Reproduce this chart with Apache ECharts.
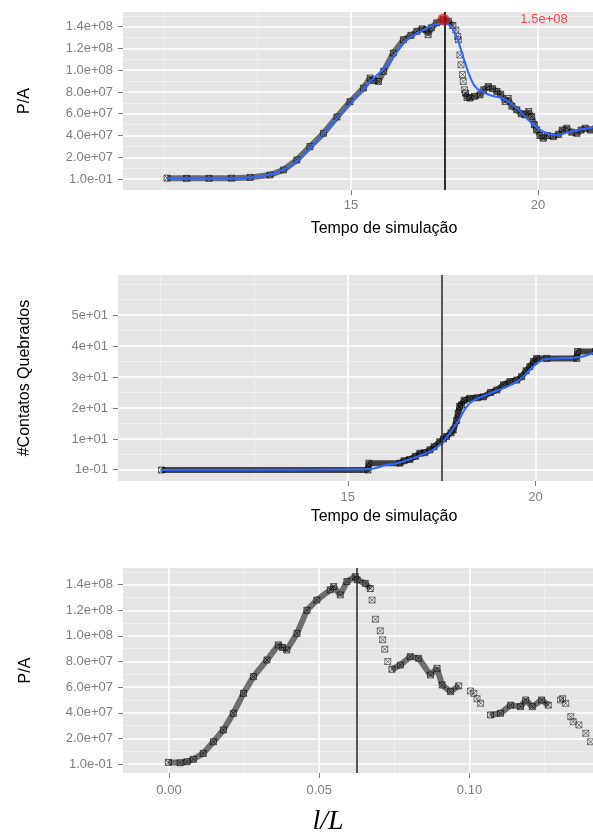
<!DOCTYPE html>
<html>
<head>
<meta charset="utf-8">
<script src="https://cdn.jsdelivr.net/npm/echarts@6/dist/echarts.min.js"></script>
<style>
html, body { margin: 0; padding: 0; background: #fff; }
#chart { width: 593px; height: 834px; }
</style>
</head>
<body>
<div id="chart"></div>
<script>
// values
// P/A values are kept in millions (x 1e6)
const PA_UNIT = 1e6;

// panel 1: P/A vs tempo de simulação
const pa1Rise = [[10.08,0.8],[10.6,0.6],[11.2,0.6],[11.8,0.8],[12.3,1.5],[12.83,3.7],[13.19,8.3],[13.55,17.5],[13.9,29.8],[14.26,42],[14.62,57],[14.97,71],[15.33,83.6],[15.51,92.8],[15.6,90.5],[15.73,89.7],[15.87,98.9],[16.13,115.8],[16.4,128],[16.6,132],[16.76,135.8],[16.9,138],[17.02,137],[17.06,132.7],[17.15,139],[17.29,143.5],[17.47,146.5],[17.6,145],[17.72,141]];
const pa1Drop = [[17.8,137],[17.85,131],[17.87,128],[17.91,114],[17.94,105],[17.98,96],[18.0,89.6],[18.03,82]];
const pa1Tail = [[18.06,79],[18.1,75],[18.18,74.4],[18.3,76],[18.45,77.4],[18.55,82],[18.67,85],[18.78,83],[18.9,80.5],[19.0,78],[19.12,71.2],[19.2,74],[19.3,67],[19.43,63.6],[19.55,60],[19.65,59],[19.75,62],[19.83,57.4],[19.9,50],[19.96,45.2],[20.05,40],[20.14,37.5],[20.25,40],[20.41,39],[20.55,41],[20.65,45],[20.77,46.7],[20.9,43],[21.04,42],[21.15,45],[21.26,46.7],[21.4,45],[21.55,46.7]];
const pa1Smooth = [[10.08,0.5],[11,0.5],[12,0.8],[12.5,2],[13,6],[13.5,15],[14,32],[14.5,51],[15,70],[15.5,89],[16,106],[16.5,128],[17,138],[17.3,142.5],[17.5,143],[17.74,137],[18.0,112],[18.18,94],[18.36,83.4],[18.72,77],[19.07,74],[19.43,65],[19.79,52.7],[20.14,43.5],[20.5,40.4],[20.86,43.5],[21.47,47.5]];
const pa1Peak = [17.47, 146.5];
const pa1PeakText = '1.5e+08';
const pa1Cut = 17.5;

// panel 2: #Contatos Quebrados vs tempo de simulação
const cqSteps = [[10.04,0],[15.54,0],[15.56,2.2],[16.39,2.2],[16.5,3.0],[16.65,3.4],[16.8,4.4],[16.92,5.4],[17.05,5.6],[17.19,6.5],[17.3,7.5],[17.45,9.1],[17.55,10],[17.63,10.8],[17.75,12],[17.81,12.9],[17.9,16],[17.94,18.3],[17.98,20.5],[18.03,21],[18.1,22.5],[18.25,23.1],[18.45,23.3],[18.61,23.6],[18.8,25],[18.97,25.8],[19.15,27.5],[19.32,28.5],[19.5,29],[19.63,30.1],[19.75,32],[19.85,33.3],[19.95,35],[20.03,36],[20.3,36],[21.1,36],[21.12,38.2],[21.6,38.2]];
const cqSmooth = [[10.04,0],[15.54,0.2],[16,1.5],[16.39,2.4],[17.19,6],[17.5,8.6],[17.9,15],[18.25,21.5],[18.69,24.2],[19.5,28.5],[20.2,35.5],[20.5,36],[21.1,36.3],[21.55,37.8]];
const cqCut = 17.5;

// panel 3: P/A vs l/L
const pa3Rise = [[-0.0002,1.3],[0.0037,1.0],[0.006,1.8],[0.0081,3.7],[0.0114,8.3],[0.0148,17.4],[0.0181,26.6],[0.0214,39.6],[0.0248,55.2],[0.0281,68.2],[0.0326,81.2],[0.0364,93],[0.0378,91],[0.0392,89],[0.0426,102],[0.0459,120],[0.0492,128],[0.0537,136],[0.0548,138.5],[0.057,132],[0.0592,142.4],[0.062,146.3],[0.0626,143.8],[0.0653,141],[0.067,137]];
const pa3Drop = [[0.0676,128],[0.0687,113],[0.0703,104],[0.0711,97],[0.0718,89.6],[0.0728,80]];
const pa3Mid = [[0.0742,74],[0.077,77.3],[0.0803,83.8],[0.0831,82.5],[0.087,69.5],[0.0892,74.7],[0.0909,61.7],[0.0937,56.5],[0.0964,61]];
const pa3Gap = [[0.1003,57],[0.1014,55.2],[0.1025,51],[0.1037,47.4]];
const pa3Low = [[0.107,38.3],[0.1103,39.6],[0.1137,46],[0.117,44.8],[0.1187,50],[0.1209,44.8],[0.124,50],[0.1262,46]];
const pa3End = [[0.1303,50],[0.131,51],[0.132,47.4],[0.1337,37],[0.1345,33],[0.1364,30.5],[0.1387,24],[0.1403,17.4]];
const pa3Cut = 0.0626;

// tick values and labels
const paTicks = [0.1, 2e7, 4e7, 6e7, 8e7, 1e8, 1.2e8, 1.4e8];
const paLabels = ['1.0e-01','2.0e+07','4.0e+07','6.0e+07','8.0e+07','1.0e+08','1.2e+08','1.4e+08'];
const paMinor = [1e7, 3e7, 5e7, 7e7, 9e7, 1.1e8, 1.3e8, 1.5e8];
const timeTicks = [15, 20];
const timeLabels = ['15', '20'];
const timeMinor = [10, 12.5, 17.5, 22.5];
const cqTicks = [0.1, 10, 20, 30, 40, 50];
const cqLabels = ['1e-01','1e+01','2e+01','3e+01','4e+01','5e+01'];
const cqMinor = [5, 15, 25, 35, 45, 55, 60];
const lTicks = [0, 0.05, 0.10];
const lLabels = ['0.00', '0.05', '0.10'];
const lMinor = [0.025, 0.075, 0.125];

const FONT = '"Liberation Sans", Arial, sans-serif';
const GREY = '#7f7f7f';

function toPA(arr) {
    return arr.map(p => [p[0], p[1] * PA_UNIT]);
}

function pick(ticks, labels, v) {
    let best = 0;
    for (let i = 1; i < ticks.length; i++) {
        if (Math.abs(ticks[i] - v) < Math.abs(ticks[best] - v)) best = i;
    }
    return labels[best];
}

function majorAxis(grid, min, max, ticks, labels, extra) {
    return Object.assign({
        type: 'value',
        gridIndex: grid,
        min: min,
        max: max,
        axisLine: { show: false, onZero: false },
        axisTick: { show: true, customValues: ticks, length: 5, lineStyle: { color: GREY, width: 1 } },
        axisLabel: {
            customValues: ticks,
            formatter: v => pick(ticks, labels, v),
            color: GREY,
            fontSize: 13,
            fontFamily: FONT,
            margin: 10,
        },
        splitLine: { show: true, lineStyle: { color: '#ffffff', width: 1.6 } },
        nameTextStyle: { color: '#000', fontSize: 16, fontFamily: FONT },
    }, extra);
}

function xLabel(ticks, labels, margin) {
    return { customValues: ticks, formatter: v => pick(ticks, labels, v), color: GREY, fontSize: 13, fontFamily: FONT, margin: margin };
}

function minorAxis(grid, min, max, ticks) {
    return {
        type: 'value',
        gridIndex: grid,
        min: min,
        max: max,
        axisLine: { show: false, onZero: false },
        axisTick: { show: false, customValues: ticks },
        axisLabel: { show: false },
        splitLine: { show: true, lineStyle: { color: '#f2f2f2', width: 0.8 } },
    };
}

const MARK = 'path://M0,0L10,0L10,10L0,10Z M0,0L10,10 M10,0L0,10';

function dense(axis, data, color) {
    return {
        type: 'line',
        xAxisIndex: axis,
        yAxisIndex: axis,
        data: data,
        symbol: MARK,
        symbolSize: 6,
        showSymbol: true,
        lineStyle: { width: 6, color: color || 'rgba(25,25,25,0.6)' },
        itemStyle: { color: 'rgba(0,0,0,0)', borderColor: 'rgba(0,0,0,0.6)', borderWidth: 1 },
        z: 2,
    };
}

function sparse(axis, data) {
    return {
        type: 'scatter',
        xAxisIndex: axis,
        yAxisIndex: axis,
        data: data,
        symbol: MARK,
        symbolSize: 6,
        itemStyle: { color: 'rgba(0,0,0,0)', borderColor: 'rgba(0,0,0,0.6)', borderWidth: 1 },
        z: 2,
    };
}

function smoothLine(axis, data) {
    return {
        type: 'line',
        xAxisIndex: axis,
        yAxisIndex: axis,
        data: data,
        smooth: 0.4,
        symbol: 'none',
        lineStyle: { width: 2, color: '#3366ff' },
        z: 3,
    };
}

function vline(axis, x, color) {
    return {
        type: 'line',
        xAxisIndex: axis,
        yAxisIndex: axis,
        data: [],
        markLine: {
            symbol: 'none',
            silent: true,
            precision: 6,
            label: { show: false },
            lineStyle: { color: color, width: 1.6, type: 'solid' },
            data: [{ xAxis: x }],
        },
        z: 4,
    };
}

const chart = echarts.init(document.getElementById('chart'));

const gridBase = { show: true, backgroundColor: '#e5e5e5', borderWidth: 0, outerBoundsMode: 'none', containLabel: false };

chart.setOption({
    animation: false,
    backgroundColor: '#ffffff',
    grid: [
        Object.assign({ left: 123, top: 12, width: 522, height: 178 }, gridBase),
        Object.assign({ left: 118, top: 275, width: 532, height: 206 }, gridBase),
        Object.assign({ left: 123, top: 568, width: 522, height: 205 }, gridBase),
    ],
    xAxis: [
        majorAxis(0, 8.9, 22.86, timeTicks, timeLabels, {
            name: 'Tempo de simulação', nameLocation: 'middle', nameGap: 31,
            axisLabel: xLabel(timeTicks, timeLabels, 9),
        }),
        minorAxis(0, 8.9, 22.86, timeMinor),
        majorAxis(1, 8.88, 23.05, timeTicks, timeLabels, {
            name: 'Tempo de simulação', nameLocation: 'middle', nameGap: 28,
            axisLabel: xLabel(timeTicks, timeLabels, 10),
        }),
        minorAxis(1, 8.88, 23.05, timeMinor),
        majorAxis(2, -0.0153, 0.1584, lTicks, lLabels, {
            name: 'l/L', nameLocation: 'middle', nameGap: 35,
            nameTextStyle: { color: '#000', fontSize: 28, fontStyle: 'italic', fontFamily: '"Liberation Serif", "DejaVu Serif", serif', padding: [0, 112, 0, 0] },
            axisLabel: xLabel(lTicks, lLabels, 11),
        }),
        minorAxis(2, -0.0153, 0.1584, lMinor),
    ],
    yAxis: [
        majorAxis(0, -10.1e6, 153.5e6, paTicks, paLabels, { name: 'P/A', nameLocation: 'middle', nameGap: 90 }),
        minorAxis(0, -10.1e6, 153.5e6, paMinor),
        majorAxis(1, -3.55, 62.9, cqTicks, cqLabels, { name: '#Contatos Quebrados', nameLocation: 'middle', nameGap: 85 }),
        minorAxis(1, -3.55, 62.9, cqMinor),
        majorAxis(2, -7.0e6, 153.0e6, paTicks, paLabels, { name: 'P/A', nameLocation: 'middle', nameGap: 89 }),
        minorAxis(2, -7.0e6, 153.0e6, paMinor),
    ],
    series: [
        // panel 1
        dense(0, toPA(pa1Rise)),
        sparse(0, toPA(pa1Drop)),
        dense(0, toPA(pa1Tail)),
        smoothLine(0, toPA(pa1Smooth)),
        vline(0, pa1Cut, '#000'),
        {
            type: 'scatter', xAxisIndex: 0, yAxisIndex: 0,
            data: toPA([pa1Peak]),
            symbolSize: 12,
            itemStyle: { color: 'rgba(210,20,20,0.85)' },
            z: 5,
        },
        {
            type: 'scatter', xAxisIndex: 0, yAxisIndex: 0,
            data: [[20.16, pa1Peak[1] * PA_UNIT]],
            symbolSize: 0,
            label: { show: true, position: 'inside', formatter: pa1PeakText, color: '#ff1a1a', fontSize: 13, fontFamily: FONT },
            z: 5,
        },
        // panel 2
        dense(2, cqSteps, 'rgba(10,10,10,0.75)'),
        smoothLine(2, cqSmooth),
        vline(2, cqCut, '#333'),
        // panel 3
        dense(4, toPA(pa3Rise), 'rgba(30,30,30,0.6)'),
        sparse(4, toPA(pa3Drop)),
        dense(4, toPA(pa3Mid), 'rgba(30,30,30,0.6)'),
        sparse(4, toPA(pa3Gap)),
        dense(4, toPA(pa3Low), 'rgba(30,30,30,0.6)'),
        sparse(4, toPA(pa3End)),
        vline(4, pa3Cut, '#333'),
    ],
});
</script>
</body>
</html>
